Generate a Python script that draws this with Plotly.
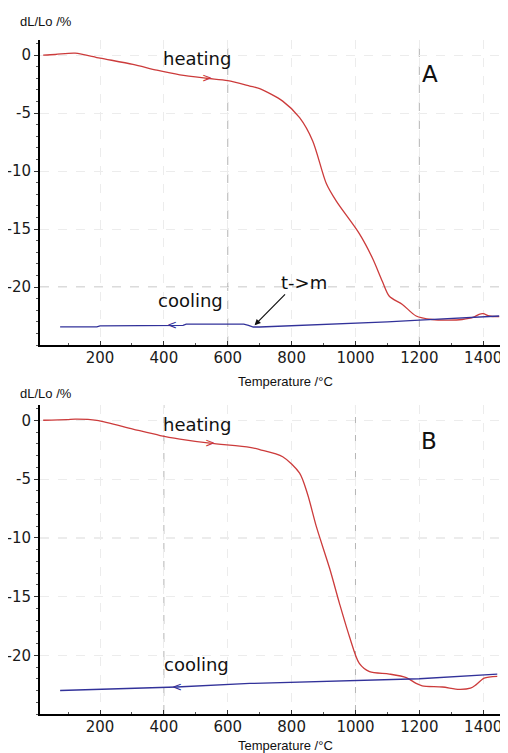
import plotly.graph_objects as go

# ---------------- data ----------------
heat_a_T = [22, 60, 122, 200, 303, 378, 450, 534, 600, 669, 700, 772, 825, 866, 909, 940,
            1012, 1053, 1084, 1106, 1147, 1190, 1240, 1290, 1334, 1370, 1387, 1400, 1419, 1450]
heat_a_v = [0.0, 0.05, 0.17, -0.26, -0.8, -1.3, -1.7, -2.0, -2.2, -2.67, -2.9, -3.97, -5.4, -7.4,
            -11.1, -12.6, -15.4, -17.5, -19.5, -20.8, -21.5, -22.5, -22.8, -22.85, -22.8, -22.6,
            -22.35, -22.3, -22.5, -22.55]
cool_a_T = [75, 190, 200, 300, 310, 460, 470, 650, 665, 680, 700, 900, 1100, 1200, 1300, 1450]
cool_a_v = [-23.43, -23.43, -23.35, -23.35, -23.3, -23.3, -23.2, -23.2, -23.3, -23.45, -23.45,
            -23.25, -23.0, -22.85, -22.72, -22.5]

heat_b_T = [22, 96, 122, 190, 303, 388, 450, 544, 669, 700, 772, 825, 850, 878, 919, 950, 981,
            1012, 1044, 1106, 1159, 1190, 1209, 1272, 1325, 1360, 1378, 1403, 1444]
heat_b_v = [0.0, 0.05, 0.1, 0.0, -0.75, -1.3, -1.6, -1.95, -2.3, -2.5, -3.1, -4.5, -6.3, -9.1,
            -12.6, -15.6, -18.4, -20.7, -21.4, -21.6, -21.9, -22.4, -22.6, -22.7, -22.9, -22.8,
            -22.5, -21.95, -21.8]
cool_b_T = [75, 440, 669, 1200, 1444]
cool_b_v = [-23.0, -22.7, -22.4, -22.0, -21.6]

x_ticks = [200, 400, 600, 800, 1000, 1200, 1400]
y_ticks = [0, -5, -10, -15, -20]
y_ticktext = ["0", "-5", "-10", "-15", "-20"]

RED = "#cc3b3b"
BLUE = "#32329a"
TICKFONT = dict(family="DejaVu Sans", size=15, color="#1a1a1a")
LABELFONT = dict(family="DejaVu Sans", size=18, color="#111")
TITLEFONT = dict(family="Liberation Sans", size=13, color="#111")

# page has an 8px body margin, so the figure is 8px smaller and shifted
W, H = 500, 745
OFF = 8
L, R = 40 - OFF, 5
PW = W - L - R


def py(ref_y):
    return 1 - (ref_y - OFF) / H


def px(ref_x):
    return (ref_x - OFF - L) / PW


fig = go.Figure()
fig.add_trace(go.Scatter(x=heat_a_T, y=heat_a_v, mode="lines",
                         line=dict(color=RED, width=1.3, shape="spline", smoothing=0.8),
                         xaxis="x", yaxis="y", showlegend=False))
fig.add_trace(go.Scatter(x=cool_a_T, y=cool_a_v, mode="lines", line=dict(color=BLUE, width=1.3),
                         xaxis="x", yaxis="y", showlegend=False))
fig.add_trace(go.Scatter(x=heat_b_T, y=heat_b_v, mode="lines",
                         line=dict(color=RED, width=1.3, shape="spline", smoothing=0.8),
                         xaxis="x2", yaxis="y2", showlegend=False))
fig.add_trace(go.Scatter(x=cool_b_T, y=cool_b_v, mode="lines", line=dict(color=BLUE, width=1.3),
                         xaxis="x2", yaxis="y2", showlegend=False))

dom_a = [py(345), py(40)]
dom_b = [py(714), py(405)]

xcommon = dict(range=[12, 1462], tickvals=x_ticks, tickfont=TICKFONT, showline=True,
               linecolor="black", linewidth=2, ticks="inside", ticklen=4, tickcolor="#333",
               minor=dict(dtick=100, ticks="inside", ticklen=2, tickcolor="#555", showgrid=False),
               showgrid=True, gridcolor="#ececec", griddash="dash", gridwidth=1,
               ticklabelstandoff=-2,
               zeroline=False, fixedrange=True, automargin=False)
ycommon = dict(range=[-25, 1.3], tickvals=y_ticks, ticktext=y_ticktext, tickfont=TICKFONT,
               showline=True, linecolor="black", linewidth=2, ticks="outside", ticklen=4,
               tickcolor="#333",
               minor=dict(dtick=1, ticks="outside", ticklen=2, tickcolor="#555", showgrid=False),
               showgrid=True, gridcolor="#ececec", griddash="dash", gridwidth=1,
               zeroline=False, fixedrange=True, automargin=False)

fig.update_layout(
    width=W, height=H,
    margin=dict(l=L, r=R, t=0, b=0),
    paper_bgcolor="white", plot_bgcolor="white",
    xaxis=dict(xcommon, domain=[0, 1], anchor="y"),
    yaxis=dict(ycommon, domain=dom_a, anchor="x"),
    xaxis2=dict(xcommon, domain=[0, 1], anchor="y2"),
    yaxis2=dict(ycommon, domain=dom_b, anchor="x2"),
)

# darker dashed reference gridlines
DG = dict(color="#b5b5b5", width=1, dash="dash")
fig.add_shape(type="line", xref="x", yref="y domain", x0=600, x1=600, y0=0, y1=1, line=DG, layer="below")
fig.add_shape(type="line", xref="x", yref="y domain", x0=1200, x1=1200, y0=0, y1=1, line=DG, layer="below")
fig.add_shape(type="line", xref="x domain", yref="y", x0=0, x1=1, y0=-20, y1=-20, line=DG, layer="below")
fig.add_shape(type="line", xref="x2", yref="y2 domain", x0=400, x1=400, y0=0, y1=1, line=DG, layer="below")
fig.add_shape(type="line", xref="x2", yref="y2 domain", x0=1000, x1=1000, y0=0, y1=1, line=DG, layer="below")
fig.add_shape(type="line", xref="x2 domain", yref="y2", x0=0, x1=1, y0=-10, y1=-10, line=DG, layer="below")

ann = []
# axis titles
for yy in (22, 393):
    ann.append(dict(text="dL/Lo /%", xref="paper", yref="paper", x=px(18), y=py(yy),
                    xanchor="left", yanchor="middle", showarrow=False, font=TITLEFONT))
for yy in (381, 745):
    ann.append(dict(text="Temperature /°C", xref="paper", yref="paper", x=px(285), y=py(yy),
                    xanchor="center", yanchor="middle", showarrow=False, font=TITLEFONT))

# labels panel A
ann.append(dict(text="heating", x=505, y=-0.3, xref="x", yref="y", showarrow=False, font=LABELFONT))
ann.append(dict(text="A", x=1234, y=-1.6, xref="x", yref="y", showarrow=False,
                font=dict(family="DejaVu Sans", size=23, color="#111")))
ann.append(dict(text="cooling", x=484, y=-21.2, xref="x", yref="y", showarrow=False, font=LABELFONT))
ann.append(dict(text="t->m", x=840, y=-19.6, xref="x", yref="y", showarrow=False, font=LABELFONT))
ann.append(dict(text="", x=684, y=-23.3, ax=784, ay=-20.5, xref="x", yref="y", axref="x", ayref="y",
                showarrow=True, arrowhead=2, arrowsize=1, arrowwidth=1.2, arrowcolor="#111"))
# direction chevrons A
ann.append(dict(text=">", x=534, y=-2.0, xref="x", yref="y", showarrow=False,
                font=dict(family="DejaVu Sans", size=12, color=RED)))
ann.append(dict(text="<", x=425, y=-23.27, xref="x", yref="y", showarrow=False,
                font=dict(family="DejaVu Sans", size=12, color=BLUE)))

# labels panel B
ann.append(dict(text="heating", x=505, y=-0.4, xref="x2", yref="y2", showarrow=False, font=LABELFONT))
ann.append(dict(text="B", x=1231, y=-1.8, xref="x2", yref="y2", showarrow=False,
                font=dict(family="DejaVu Sans", size=23, color="#111")))
ann.append(dict(text="cooling", x=503, y=-20.8, xref="x2", yref="y2", showarrow=False, font=LABELFONT))
ann.append(dict(text=">", x=544, y=-1.95, xref="x2", yref="y2", showarrow=False,
                font=dict(family="DejaVu Sans", size=12, color=RED)))
ann.append(dict(text="<", x=440, y=-22.7, xref="x2", yref="y2", showarrow=False,
                font=dict(family="DejaVu Sans", size=12, color=BLUE)))

fig.update_layout(annotations=ann)
fig.write_html("out.html")
